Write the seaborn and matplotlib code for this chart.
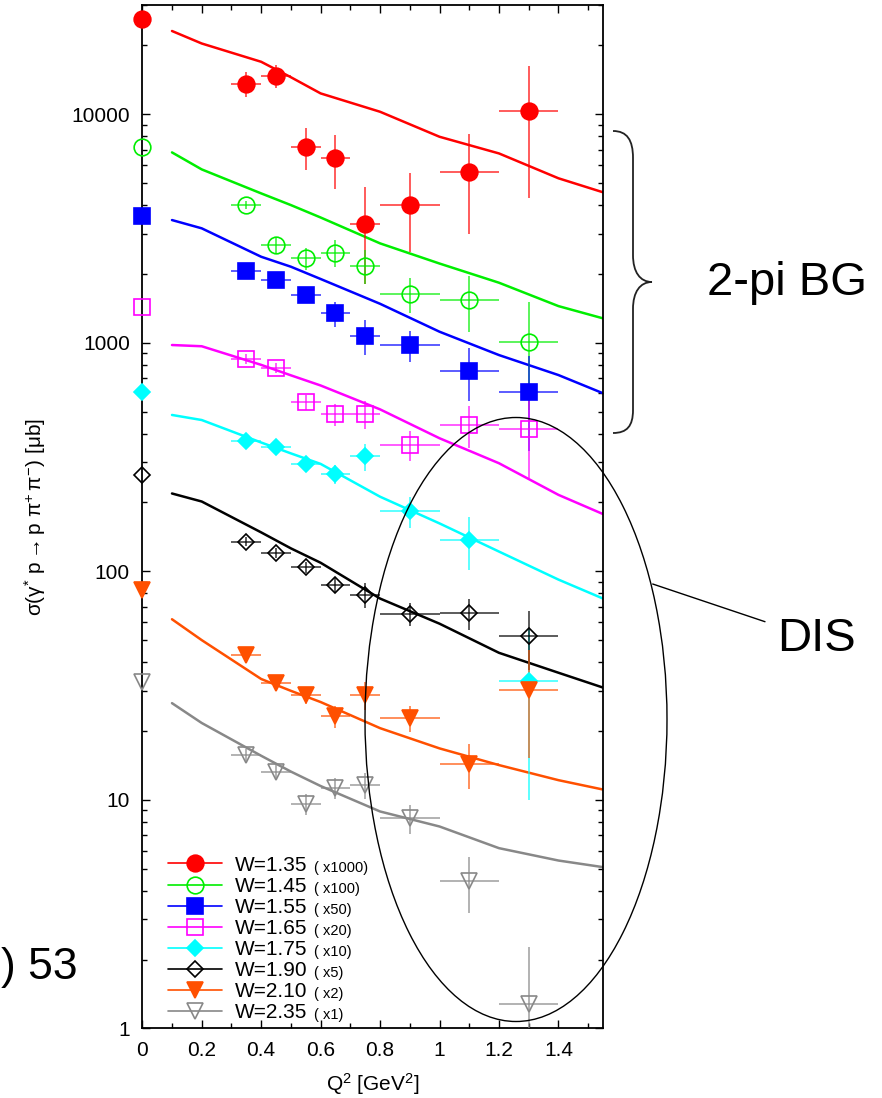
import matplotlib
matplotlib.use("Agg")
import matplotlib.pyplot as plt
import seaborn as sns
import pandas as pd
from matplotlib.colors import to_rgba
from matplotlib.lines import Line2D
from matplotlib.patches import Ellipse, PathPatch
from matplotlib.path import Path
from matplotlib.ticker import MultipleLocator, LogLocator, FuncFormatter, NullFormatter

sns.set_style("ticks")
plt.rcParams["font.family"] = ["Liberation Sans", "DejaVu Sans"]
plt.rcParams["mathtext.fontset"] = "custom"
plt.rcParams["mathtext.rm"] = "Liberation Sans"
plt.rcParams["mathtext.it"] = "Liberation Sans:italic"
plt.rcParams["mathtext.default"] = "regular"
for key in ["text.color", "axes.labelcolor", "xtick.color", "ytick.color", "axes.edgecolor"]:
    plt.rcParams[key] = "black"

# data
w_labels = ["W=1.35", "W=1.45", "W=1.55", "W=1.65", "W=1.75", "W=1.90", "W=2.10", "W=2.35"]
scale_labels = ["( x1000)", "( x100)", "( x50)", "( x20)", "( x10)", "( x5)", "( x2)", "( x1)"]

q2 = [0, 0.35, 0.45, 0.55, 0.65, 0.75, 0.9, 1.1, 1.3]
q2_err = [0, 0.05, 0.05, 0.05, 0.05, 0.05, 0.1, 0.1, 0.1]

sig_135 = [26000, 13600, 14660, 7200, 6400, 3300, 4000, 5600, 10300]
err_135 = [0, 1700, 1700, 1500, 1700, 1500, 1500, 2600, 6000]
sig_145 = [7200, 4000, 2670, 2340, 2480, 2170, 1633, 1538, 1010]
err_145 = [0, 150, 200, 250, 330, 370, 290, 420, 500]
sig_155 = [3590, 2050, 1880, 1617, 1343, 1070, 977, 752, 607]
err_155 = [0, 100, 100, 100, 170, 185, 150, 195, 270]
sig_165 = [1430, 850, 778, 550, 487, 488, 357, 437, 420]
err_165 = [0, 40, 40, 40, 55, 70, 53, 90, 165]
sig_175 = [607, 370, 351, 295, 267, 318, 183, 137, 33]
err_175 = [0, 15, 15, 20, 25, 42, 28, 36, 23]
sig_190 = [264, 135, 120, 104, 87, 79, 65, 65.6, 51.9]
err_190 = [0, 6, 6, 6, 7, 10, 7.5, 10, 15]
sig_210 = [83, 43, 32.4, 28.8, 23.2, 28.8, 22.8, 14.4, 30.3]
err_210 = [0, 2, 2, 2.5, 2.5, 4, 3, 3.2, 15]
sig_235 = [32.7, 15.7, 13.2, 9.6, 11.3, 11.6, 8.3, 4.4, 1.28]
err_235 = [0, 1, 1, 1, 1.2, 1.5, 1.2, 1.2, 1.0]

model_q2 = [0.1, 0.2, 0.4, 0.5, 0.6, 0.8, 1.0, 1.2, 1.4, 1.55]
model_135 = [23100, 20370, 16940, 14500, 12320, 10240, 7960, 6730, 5240, 4550]
model_145 = [6800, 5730, 4500, 4000, 3530, 2720, 2220, 1830, 1446, 1278]
model_155 = [3440, 3165, 2377, 2150, 1900, 1480, 1117, 883, 722, 601]
model_165 = [977, 965, 800, 720, 650, 511, 382, 297, 216, 178]
model_175 = [483, 459, 366, 328, 295, 212, 162, 122, 92, 76]
model_190 = [219, 202, 148, 126, 109, 76, 59, 44, 36, 31]
model_210 = [61.7, 50, 33.8, 30, 26.8, 20.6, 16.8, 14.2, 12.2, 11.1]
model_235 = [26.5, 21.7, 15.6, 13.3, 11.5, 8.9, 7.65, 6.15, 5.43, 5.08]

sigmas = [sig_135, sig_145, sig_155, sig_165, sig_175, sig_190, sig_210, sig_235]
errors = [err_135, err_145, err_155, err_165, err_175, err_190, err_210, err_235]
models = [model_135, model_145, model_155, model_165, model_175, model_190, model_210, model_235]

colors = ["#ff0000", "#00ee00", "#0000ff", "#ff00ff", "#00ffff", "#000000", "#ff5000", "#888888"]
markers = ["o", "o", "s", "s", "D", "D", "v", "v"]
filled = [True, False, True, False, True, False, True, False]
msizes = [12, 12, 12, 12, 8, 8, 12, 12]

fig = plt.figure(figsize=(8.82, 10.98), dpi=100)
ax = fig.add_axes([0.1613, 0.0633, 0.5224, 0.9321])

for i in range(8):
    c = colors[i]
    df = pd.DataFrame({"q2": model_q2, "sig": models[i]})
    sns.lineplot(data=df, x="q2", y="sig", color=c, lw=1.8, ax=ax, zorder=2)
    ax.errorbar(q2, sigmas[i], xerr=q2_err, yerr=errors[i], fmt="none",
                ecolor=to_rgba(c, 0.75), elinewidth=1.2, capsize=0, zorder=3)
    ax.plot(q2, sigmas[i], ls="none", marker=markers[i], ms=msizes[i],
            mfc=c if filled[i] else "none", mec=c, mew=1.2, clip_on=False, zorder=4)

ax.set_yscale("log")
ax.set_xlim(0, 1.55)
ax.set_ylim(1, 30000)
ax.xaxis.set_major_locator(MultipleLocator(0.2))
ax.xaxis.set_minor_locator(MultipleLocator(0.1))
ax.xaxis.set_major_formatter(FuncFormatter(lambda v, p: f"{v:g}"))
ax.yaxis.set_major_locator(LogLocator(base=10, numticks=10))
ax.yaxis.set_minor_locator(LogLocator(base=10, subs=range(2, 10), numticks=20))
ax.yaxis.set_major_formatter(FuncFormatter(lambda v, p: f"{v:g}"))
ax.yaxis.set_minor_formatter(NullFormatter())
ax.tick_params(which="both", direction="in", top=True, right=True, labelsize=15, pad=9, width=1)
ax.tick_params(which="major", length=6)
ax.tick_params(which="minor", length=3.5)
for sp in ax.spines.values():
    sp.set_linewidth(1.3)

ax.set_xlabel(r"Q$^2$ [GeV$^2$]", fontsize=15, labelpad=8)
ax.set_ylabel(r"$\sigma(\gamma^{*}\ p \rightarrow p\ \pi^{+}\,\pi^{-})\ [\mu b]$", fontsize=15)
ax.yaxis.set_label_coords(-0.205, 0.5)

handles = [Line2D([], [], color=colors[i], lw=1.2, marker=markers[i], ms=msizes[i],
                  mfc=colors[i] if filled[i] else "none", mec=colors[i], mew=1.2)
           for i in range(8)]
leg = ax.legend(handles, w_labels, loc="lower left", bbox_to_anchor=(0.055, 0.006),
                frameon=False, fontsize=15, handlelength=2.6, handletextpad=0.65,
                labelspacing=0.1, borderpad=0, borderaxespad=0)

# small scale factors after each legend entry
fig.canvas.draw()
r = fig.canvas.get_renderer()
for t, s in zip(leg.get_texts(), scale_labels):
    bb = t.get_window_extent(r)
    fig.text((bb.x1 + 6) / 882, bb.y0 / 1098, s, fontsize=10.5, va="bottom", ha="left")

# annotations outside / over the axes
def fx(px):
    return px / 882

def fy(py):
    return 1 - py / 1098

brace_pts = [(613, 131), (627, 131), (633, 140), (633, 158), (633, 255),
             (633, 272), (640, 282), (652, 282), (640, 282), (633, 292), (633, 309),
             (633, 410), (633, 426), (627, 433), (613, 433)]
codes = [Path.MOVETO, Path.CURVE4, Path.CURVE4, Path.CURVE4, Path.LINETO,
         Path.CURVE4, Path.CURVE4, Path.CURVE4, Path.CURVE4, Path.CURVE4, Path.CURVE4,
         Path.LINETO, Path.CURVE4, Path.CURVE4, Path.CURVE4]
brace = Path([(fx(x), fy(y)) for x, y in brace_pts], codes)
fig.add_artist(PathPatch(brace, transform=fig.transFigure, fill=False, ec="#222222", lw=1.3))
fig.text(fx(707), fy(283), "2-pi BG", fontsize=34, va="center", ha="left")

fig.add_artist(Ellipse((fx(516), fy(719.5)), 302 / 882, 604 / 1098, transform=fig.transFigure,
                       fill=False, ec="black", lw=1.0))
fig.add_artist(Line2D([fx(652.7), fx(765)], [fy(584), fy(621.7)], transform=fig.transFigure,
                      color="black", lw=1.0))
fig.text(fx(777), fy(639), "DIS", fontsize=34, va="center", ha="left")

fig.text(fx(1), fy(967), ") 53", fontsize=32, va="center", ha="left")

fig.savefig("out.png", dpi=100)
